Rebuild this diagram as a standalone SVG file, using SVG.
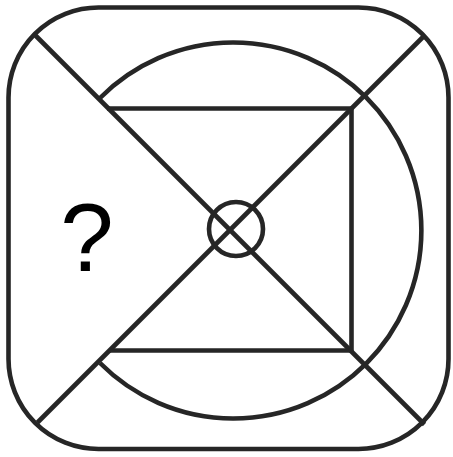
<svg xmlns="http://www.w3.org/2000/svg" width="453" height="457" viewBox="0 0 453 457">
<style>
.s{fill:none;stroke:#262626;stroke-width:4.6;stroke-linejoin:miter}
.t{font-family:"Liberation Sans",Arial,sans-serif;font-size:96px;fill:#000}
</style>
<rect width="453" height="457" fill="#fff"/>
<g id="frame"><rect class="s" x="8.5" y="7.5" width="440" height="441.5" rx="90" ry="90"/></g>
<g id="circle"><path class="s" d="M100,98 A188,188 0 1 1 100,363"/></g>
<g id="square"><path class="s" d="M107,108.5 H351.5 V350.5 H110"/></g>
<g id="small-circle"><circle class="s" cx="236" cy="229" r="27"/></g>
<g id="connectors">
<line class="s" x1="35" y1="35" x2="424.5" y2="424.5"/>
<line class="s" x1="425" y1="35" x2="37.5" y2="422.5"/>
</g>
<g id="label"><text class="t" x="87" y="271" text-anchor="middle">?</text></g>
</svg>
